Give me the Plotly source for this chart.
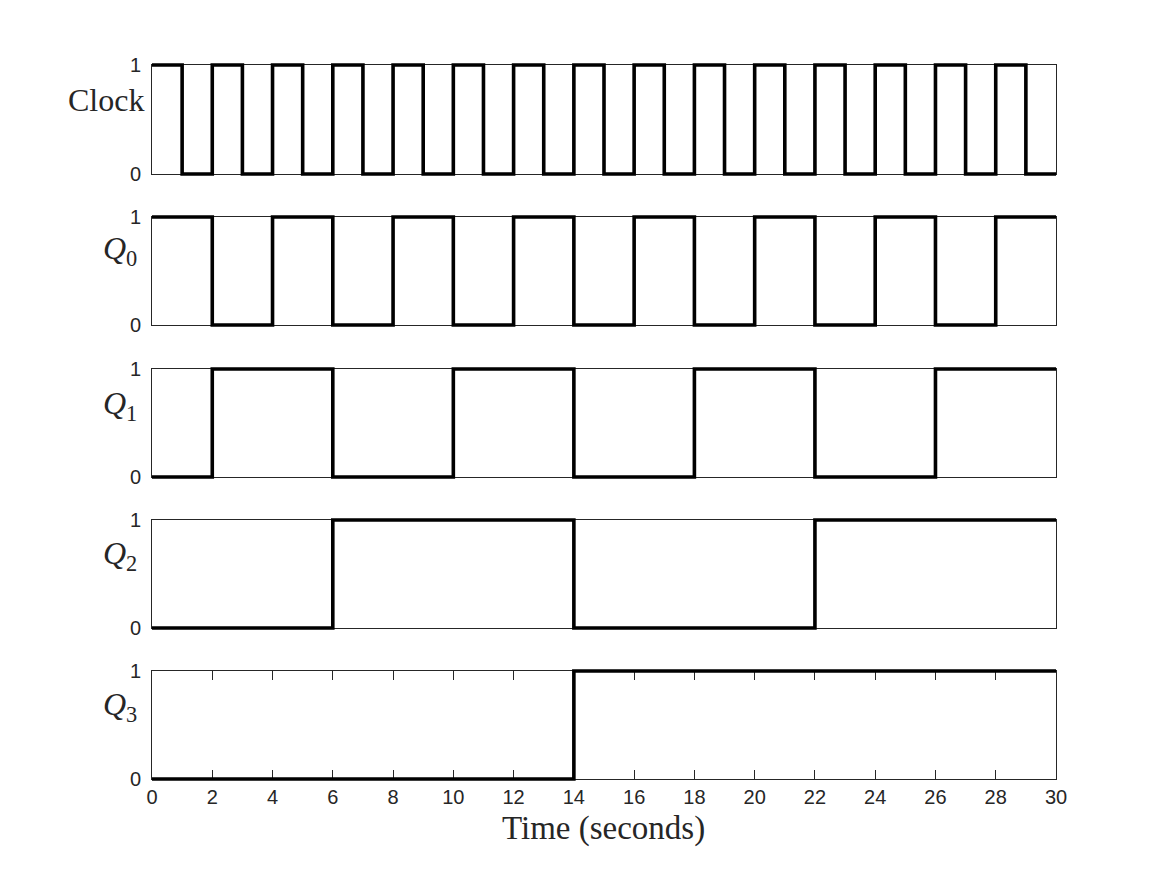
import plotly.graph_objects as go

# ---- data ----
time = list(range(0, 31))
clock = [1,0,1,0,1,0,1,0,1,0,1,0,1,0,1,0,1,0,1,0,1,0,1,0,1,0,1,0,1,0,0]
q0    = [1,1,0,0,1,1,0,0,1,1,0,0,1,1,0,0,1,1,0,0,1,1,0,0,1,1,0,0,1,1,1]
q1    = [0,0,1,1,1,1,0,0,0,0,1,1,1,1,0,0,0,0,1,1,1,1,0,0,0,0,1,1,1,1,1]
q2    = [0,0,0,0,0,0,1,1,1,1,1,1,1,1,0,0,0,0,0,0,0,0,1,1,1,1,1,1,1,1,1]
q3    = [0,0,0,0,0,0,0,0,0,0,0,0,0,0,1,1,1,1,1,1,1,1,1,1,1,1,1,1,1,1,1]
signals = [clock, q0, q1, q2, q3]
labels = ["Clock", "<i>Q</i><sub>0</sub>", "<i>Q</i><sub>1</sub>",
          "<i>Q</i><sub>2</sub>", "<i>Q</i><sub>3</sub>"]
x_ticks = list(range(0, 31, 2))
y_ticks = [0, 1]
x_title = "Time (seconds)"

W, H = 1167, 875
tops = [65, 217, 369, 520, 671]
bots = [174, 325, 477, 628, 779]
label_y = [100, 250, 405, 555, 706]
label_x = [146, 139, 139, 139, 139]
x0, x1 = 152 / W, 1056 / W
axcol = "#262626"
pad = 5 / H  # extra room so thick lines at 0 / 1 are not clipped
N = len(signals)
tickfont = dict(family="Liberation Sans, Arial, sans-serif", size=20, color=axcol)
serif = "Liberation Serif, Times New Roman, serif"

fig = go.Figure()
layout = dict(
    width=W, height=H, margin=dict(l=0, r=0, t=0, b=0, autoexpand=False),
    paper_bgcolor="white", plot_bgcolor="rgba(0,0,0,0)", showlegend=False,
    template="none",
)
annotations = []
# visible boxes / ticks
for i in range(N):
    n = "" if i == 0 else str(i + 1)
    d0, d1 = 1 - bots[i] / H, 1 - tops[i] / H
    last = (i == N - 1)
    layout["xaxis" + n] = dict(
        domain=[x0, x1], anchor="y" + n, range=[0, 30], automargin=False,
        showline=True, linecolor=axcol, linewidth=1, mirror=("ticks" if last else True),
        showgrid=False, zeroline=False,
        tickvals=x_ticks if last else [], ticks="inside" if last else "",
        ticklen=9, tickwidth=1, tickcolor=axcol,
        showticklabels=last, tickfont=tickfont,
    )
    layout["yaxis" + n] = dict(
        domain=[d0, d1], anchor="x" + n, range=[0, 1], automargin=False,
        showline=True, linecolor=axcol, linewidth=1, mirror=True,
        showgrid=False, zeroline=False,
        tickvals=y_ticks, ticks="", ticklabelstandoff=6, tickfont=tickfont,
    )
    annotations.append(dict(
        text=labels[i], xref="paper", yref="paper", x=label_x[i] / W, y=1 - label_y[i] / H,
        xanchor="right", yanchor="middle", showarrow=False,
        font=dict(family=serif, size=32, color=axcol),
    ))
    # empty placeholder trace so the box subplot exists
    fig.add_trace(go.Scatter(x=[], y=[], xaxis="x" + n, yaxis="y" + n, hoverinfo="skip"))

# signal traces on invisible, slightly taller twin axes (same data mapping)
for i, sig in enumerate(signals):
    m = str(i + 1 + N)
    d0, d1 = 1 - bots[i] / H, 1 - tops[i] / H
    e = pad / (d1 - d0)
    fig.add_trace(go.Scatter(
        x=time, y=sig, mode="lines", line=dict(shape="hv", color="black", width=3.6),
        xaxis="x" + m, yaxis="y" + m, hoverinfo="skip",
    ))
    layout["xaxis" + m] = dict(
        domain=[x0, x1], anchor="y" + m, range=[0, 30],
        visible=False, automargin=False, showgrid=False, zeroline=False,
    )
    layout["yaxis" + m] = dict(
        domain=[d0 - pad, d1 + pad], anchor="x" + m, range=[-e, 1 + e],
        visible=False, automargin=False, showgrid=False, zeroline=False,
    )

annotations.append(dict(
    text=x_title, xref="paper", yref="paper", x=(x0 + x1) / 2, y=1 - 828 / H,
    xanchor="center", yanchor="middle", showarrow=False,
    font=dict(family=serif, size=33, color=axcol),
))
layout["annotations"] = annotations
fig.update_layout(**layout)
fig.write_html("out.html")
